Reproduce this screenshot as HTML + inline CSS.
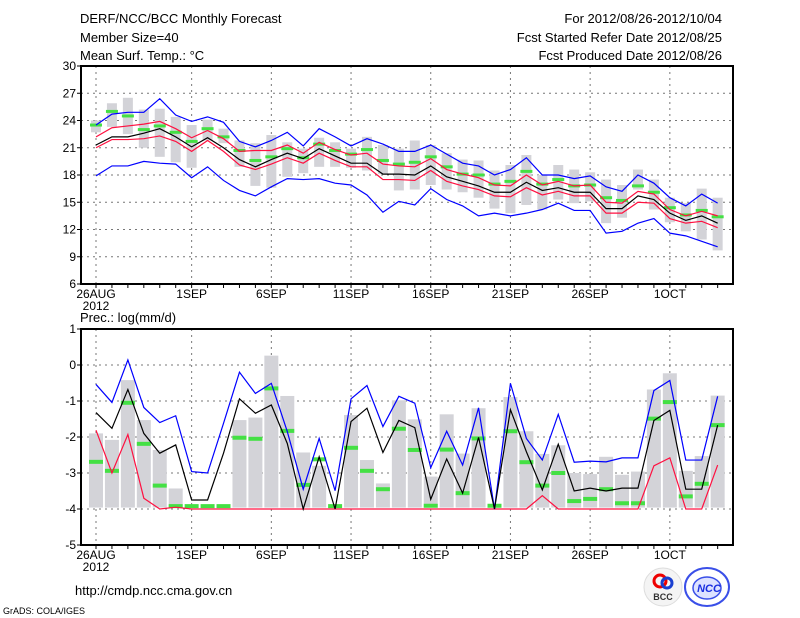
<!DOCTYPE html>
<html><head><meta charset="utf-8"><style>
html,body{margin:0;padding:0;background:#fff;}
svg{display:block;font-family:"Liberation Sans",sans-serif;}
</style></head><body>
<svg id="c" width="800" height="618" xmlns="http://www.w3.org/2000/svg">
<rect width="800" height="618" fill="#fff"/>
<g font-size="13" fill="#000">
<text x="80" y="23">DERF/NCC/BCC Monthly Forecast</text>
<text x="80" y="42">Member Size=40</text>
<text x="80" y="60">Mean Surf. Temp.: °C</text>
<text x="722" y="23" text-anchor="end">For 2012/08/26-2012/10/04</text>
<text x="722" y="42" text-anchor="end">Fcst Started Refer Date 2012/08/25</text>
<text x="722" y="60" text-anchor="end">Fcst Produced Date 2012/08/26</text>
<text x="80" y="322">Prec.: log(mm/d)</text>
<text x="75" y="595">http://cmdp.ncc.cma.gov.cn</text>
<text x="3" y="614" font-size="9">GrADS: COLA/IGES</text>
</g>
<g>
<circle cx="663" cy="587" r="19" fill="#f4f4f4" stroke="#ddd"/>
<circle cx="660" cy="581" r="6" fill="none" stroke="#e00" stroke-width="3"/>
<circle cx="667" cy="583" r="5" fill="none" stroke="#1a3fd0" stroke-width="3"/>
<text x="663" y="600" font-size="9" font-weight="bold" text-anchor="middle" fill="#333">BCC</text>
</g>
<g>
<ellipse cx="707" cy="587" rx="22" ry="19" fill="#fff" stroke="#3a4fe8" stroke-width="2"/>
<ellipse cx="707" cy="588" rx="14" ry="11" fill="#dde2ff" stroke="#3a4fe8" stroke-width="1.5"/>
<text x="709" y="592" font-size="11" font-weight="bold" font-style="italic" text-anchor="middle" fill="#1a2fe0">NCC</text>
</g>
<g id="top"></g>
<g id="bot"></g>
</svg>
<script>
// ---- data ----
const dayLabels = ["26AUG","1SEP","6SEP","11SEP","16SEP","21SEP","26SEP","1OCT"];
const dayLabelIdx = [0,6,11,16,21,26,31,36];
const tempTicks = [6,9,12,15,18,21,24,27,30];
const precTicks = [-5,-4,-3,-2,-1,0,1];

const tMean = [21.3,22.2,22.2,22.6,23.1,22.2,21.1,22.1,21.0,19.7,18.9,19.7,20.4,19.8,20.9,20.1,19.3,19.3,18.1,18.1,18.0,19.0,17.8,17.3,16.8,16.1,16.1,17.2,16.3,16.6,16.1,16.1,14.3,14.3,15.7,15.3,13.8,13.0,13.5,12.7];
const tRedHi = [22.2,23.2,23.4,23.6,23.9,23.1,22.1,22.9,22.0,20.6,20.7,20.7,21.3,20.4,21.6,20.8,20.2,20.4,19.2,19.0,18.9,19.8,18.6,18.1,17.7,16.9,16.8,18.0,16.9,17.3,16.8,16.9,15.0,14.9,16.2,15.9,14.2,13.5,14.0,13.5];
const tRedLo = [21.0,21.9,21.9,22.0,22.3,21.7,20.6,21.8,20.6,19.1,18.6,19.2,19.9,19.3,20.4,19.6,18.9,18.9,17.5,17.5,17.4,18.5,17.3,16.8,16.4,15.7,15.6,16.6,15.8,16.2,15.7,15.7,13.8,13.8,15.0,14.9,13.2,12.7,12.9,12.2];
const tBlueHi = [23.5,24.7,24.9,24.9,26.4,24.6,23.9,24.4,23.8,21.7,21.1,21.8,22.7,21.2,23.1,22.2,21.2,22.0,21.4,20.6,20.6,21.3,20.3,19.3,19.0,18.0,18.6,19.9,18.0,18.0,17.6,17.9,16.7,16.2,18.0,17.1,15.5,14.6,15.9,14.9];
const tBlueLo = [17.9,19.0,19.0,19.5,19.3,19.2,17.7,18.9,17.4,16.3,15.7,16.7,17.6,17.5,17.6,17.1,16.9,15.8,13.9,15.1,14.7,16.5,15.3,14.6,13.5,13.8,13.5,13.8,14.2,14.9,14.1,14.1,11.6,11.8,12.7,13.2,11.6,11.3,10.7,10.1];
const tGreen = [23.5,25.0,24.5,23.0,23.4,22.7,21.7,23.1,22.2,20.7,19.6,20.0,20.9,19.9,21.4,20.7,20.3,20.8,19.6,19.2,19.4,20.0,18.9,18.1,18.0,17.0,17.3,18.4,17.0,17.5,16.8,16.9,15.5,15.2,16.8,16.1,14.4,13.6,14.1,13.4];
const tBoxHi = [24.0,25.9,26.5,25.2,25.3,24.4,23.5,24.1,23.1,21.8,21.5,22.4,21.6,20.9,22.1,21.6,20.9,22.2,21.3,20.9,21.8,21.3,20.4,19.7,19.6,18.5,19.1,20.2,18.0,19.1,18.6,18.3,17.5,16.9,18.6,17.5,15.5,14.9,16.5,15.5];
const tBoxLo = [22.7,23.3,22.5,21.0,20.0,19.4,18.8,21.8,21.5,18.9,16.8,16.6,17.8,18.2,18.9,18.9,18.8,18.5,18.1,16.3,16.4,16.9,16.4,16.1,15.5,14.3,13.8,14.7,14.2,15.3,14.9,15.1,12.7,13.3,16.4,14.2,12.8,11.8,10.9,9.7];

const pBar = [-1.9,-2.08,-0.42,-1.53,-2.36,-3.43,-4,-4,-4,-1.53,-1.46,0.26,-0.86,-2.43,-2.8,-4,-1.39,-2.64,-3.29,-0.98,-1.51,-3.1,-1.37,-2.46,-1.2,-4,-0.89,-1.84,-2.47,-2.23,-3.0,-3.03,-2.55,-3.05,-2.96,-0.68,-0.23,-2.94,-2.53,-0.85];
const pGreen = [-2.69,-2.94,-1.05,-2.19,-3.35,-3.92,-3.92,-3.92,-3.92,-2.02,-2.05,-0.65,-1.83,-3.33,-2.62,-3.92,-2.3,-2.94,-3.45,-1.77,-2.36,-3.91,-2.35,-3.56,-2.04,-3.91,-1.84,-2.7,-3.35,-3.0,-3.78,-3.72,-3.45,-3.84,-3.84,-1.49,-1.03,-3.65,-3.3,-1.67];
const pMean = [-1.32,-1.76,-0.68,-1.9,-2.45,-2.22,-3.75,-3.75,-2.45,-0.94,-1.34,-1.11,-2.18,-4.0,-2.55,-4.0,-1.57,-1.2,-2.43,-1.54,-1.74,-3.73,-2.61,-3.56,-2.01,-4.0,-1.24,-2.41,-3.47,-2.2,-3.5,-3.42,-3.5,-3.42,-3.42,-1.54,-1.26,-3.45,-3.45,-1.67];
const pBlue = [-0.54,-1.04,0.14,-1.18,-1.6,-1.41,-2.96,-3.0,-1.62,-0.2,-0.79,-0.51,-1.85,-3.45,-2.04,-3.49,-0.94,-0.57,-1.71,-0.87,-1.06,-2.85,-1.84,-2.78,-1.19,-4.0,-0.51,-2.04,-2.64,-1.37,-2.7,-2.67,-2.69,-2.58,-2.58,-0.71,-0.43,-2.64,-2.64,-0.87];
const pRed = [-1.81,-3.0,-1.93,-3.7,-4,-3.95,-4,-4,-4,-4,-4,-4,-4,-4,-4,-4,-4,-4,-4,-4,-4,-4,-4,-4,-4,-4,-4,-4,-3.63,-4,-4,-4,-4,-4,-4,-2.8,-2.58,-4,-4,-2.78];

const NS="http://www.w3.org/2000/svg";
function el(parent,tag,attrs){const e=document.createElementNS(NS,tag);for(const k in attrs)e.setAttribute(k,attrs[k]);parent.appendChild(e);return e;}
const X0=81,X1=733,DAY0=96,DX=15.94;
const xDay=i=>DAY0+i*DX;

function panel(g,top,bot,vmin,vmax,ticks,name){
  const y=v=>bot-(v-vmin)/(vmax-vmin)*(bot-top);
  ticks.forEach(t=>{ if(t>vmin&&t<vmax){const l=el(g,'line',{x1:X0,x2:X1,y1:y(t),y2:y(t),stroke:'#777','stroke-dasharray':'2,4','stroke-width':1});
    
    }
    const tx=el(g,'text',{x:X0-5,y:y(t)+4,'text-anchor':'end','font-size':12});
    tx.textContent=String(t);
    
    
    el(g,'line',{x1:X0-4,x2:X0,y1:y(t),y2:y(t),stroke:'#000'});
  });
  dayLabelIdx.forEach((d,k)=>{const x=xDay(d);
    const l=el(g,'line',{x1:x,x2:x,y1:top,y2:bot,stroke:'#777','stroke-dasharray':'2,4','stroke-width':1});
    
    
    const tx=el(g,'text',{x:x,y:bot+14,'text-anchor':'middle','font-size':12});
    tx.textContent=dayLabels[k];
    
    
  });
  const yr=el(g,'text',{x:xDay(0),y:bot+26,'text-anchor':'middle','font-size':12});
  yr.textContent='2012';
  
  
  for(let i=0;i<40;i++){el(g,'line',{x1:xDay(i),x2:xDay(i),y1:bot,y2:bot+4,stroke:'#000'});}
  return y;
}
function poly(g,arr,y,color,name){
  const p=el(g,'polyline',{points:arr.map((v,i)=>xDay(i)+','+y(v)).join(' '),fill:'none',stroke:color,'stroke-width':1.2});
  
  
}
const gt=document.getElementById('top');
const yT=panel(gt,66,284,6,30,tempTicks,'temp');
tBoxHi.forEach((v,i)=>{const r=el(gt,'rect',{x:xDay(i)-5,y:yT(v),width:10,height:yT(tBoxLo[i])-yT(v),fill:'#d3d3d8'});
  
  });
tGreen.forEach((v,i)=>{const r=el(gt,'rect',{x:xDay(i)-6,y:yT(v)-1.5,width:12,height:3,fill:'#44e044'});
  
  });
poly(gt,tBlueHi,yT,'#0000ff','temp-max-line');
poly(gt,tBlueLo,yT,'#0000ff','temp-min-line');
poly(gt,tRedHi,yT,'#ff1040','temp-upper-line');
poly(gt,tRedLo,yT,'#ff1040','temp-lower-line');
poly(gt,tMean,yT,'#000','temp-mean-line');
let b=el(gt,'rect',{x:X0,y:66,width:X1-X0,height:218,fill:'none',stroke:'#000','stroke-width':2});


const gb=document.getElementById('bot');
const yP=panel(gb,329,545,-5,1,precTicks,'prec');
pBar.forEach((v,i)=>{const r=el(gb,'rect',{x:xDay(i)-7,y:yP(v),width:14,height:Math.max(0,yP(-3.96)-yP(v)),fill:'#d3d3d8'});
  
  });
pGreen.forEach((v,i)=>{const r=el(gb,'rect',{x:xDay(i)-7,y:yP(v)-2,width:14,height:4,fill:'#44e044'});
  
  });
poly(gb,pRed,yP,'#ff1040','prec-lower-line');
poly(gb,pBlue,yP,'#0000ff','prec-upper-line');
poly(gb,pMean,yP,'#000','prec-mean-line');
b=el(gb,'rect',{x:X0,y:329,width:X1-X0,height:216,fill:'none',stroke:'#000','stroke-width':2});


</script>
</body></html>
